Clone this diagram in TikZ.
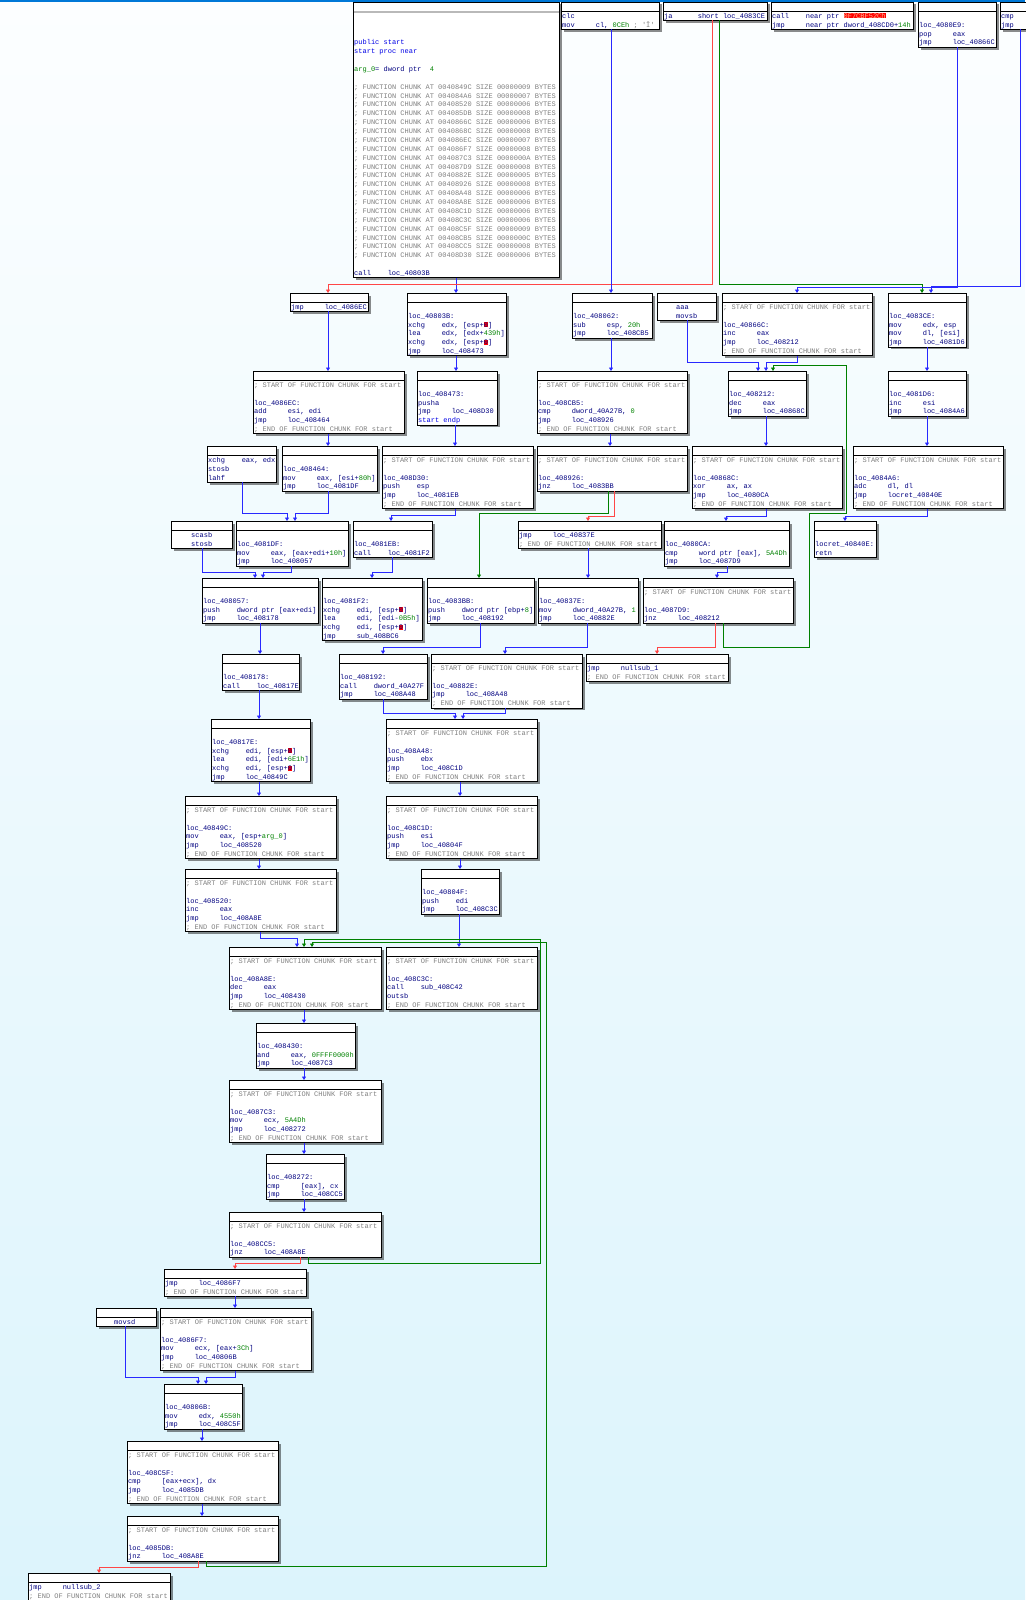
\documentclass[tikz,border=0pt]{standalone}
\usepackage{fontspec}
\setmonofont{Liberation Mono}
\usetikzlibrary{calc,arrows.meta,shadows}
\definecolor{navyc}{RGB}{0,0,128}
\definecolor{numg}{RGB}{0,130,0}
\definecolor{cmtg}{RGB}{128,128,128}
\definecolor{pubb}{RGB}{0,0,230}
\definecolor{hlred}{RGB}{255,0,0}
\definecolor{hltext}{RGB}{255,190,150}
\definecolor{edgeblue}{RGB}{40,40,255}
\definecolor{edgered}{RGB}{255,70,70}
\definecolor{edgegreen}{RGB}{0,128,0}
\definecolor{bgtop}{RGB}{252,254,255}
\definecolor{bgbot}{RGB}{220,244,252}
\definecolor{topblue}{RGB}{0,120,215}
\newcommand\idafnt{\ttfamily\fontsize{7pt}{8.87pt}\selectfont}
\newcommand\fixsp{\spaceskip=4.2pt\relax\xspaceskip=4.2pt\relax}
\newcommand\ins[2]{\makebox[33.6pt][l]{#1}#2}
\newcommand\inum[1]{\textcolor{numg}{#1}}
\newcommand\cmt[1]{\textcolor{cmtg}{#1}}
\newcommand\pub[1]{\textcolor{pubb}{#1}}
\newcommand\hlr[1]{{\setlength{\fboxsep}{0pt}\colorbox{hlred}{#1}}}
\newcommand\hlw[1]{{\setlength{\fboxsep}{0pt}\colorbox{hlred}{\textcolor{hltext}{#1}}}}
\newcommand\sch{\cmt{; START OF FUNCTION CHUNK FOR start}}
\newcommand\ech{\cmt{; END OF FUNCTION CHUNK FOR start}}
\newcommand\fch[2]{\cmt{; FUNCTION CHUNK AT #1 SIZE #2 BYTES}}
\newcommand\blank{\mbox{}}
\tikzset{
  blkbox/.style={draw=black, line width=0.8pt, fill=white, inner sep=0pt, outer sep=0pt,
    drop shadow={shadow xshift=2.5pt, shadow yshift=-2.5pt, opacity=0.45, fill=black}},
  blktext/.style={inner sep=0pt, outer sep=0pt, text=navyc, font=\idafnt, align=left},
  hdrline/.style={draw=black, line width=0.6pt},
  eb/.style={draw=edgeblue, line width=0.9pt, -{Triangle[length=3.5pt,width=4pt]}},
  er/.style={draw=edgered, line width=0.9pt, -{Triangle[length=3.5pt,width=4pt]}},
  eg/.style={draw=edgegreen, line width=0.9pt, -{Triangle[length=3.5pt,width=4pt]}}
}
% \blk{name}{x}{top}{width}{lines}{text}
\newcommand\blk[6]{%
  \pgfmathsetlengthmacro\blkh{9.6pt+8.87pt*#5}%
  \pgfmathsetlengthmacro\blkw{#4pt+12pt}%
  \node[blkbox, minimum width=#4pt, minimum height=\blkh, anchor=north west] (#1) at (#2,#3) {};
  \draw[hdrline] ($(#1.north west)+(0,9)$) -- ($(#1.north east)+(0,9)$);
  \node[blktext, text width=\blkw, anchor=base west] (#1t) at ($(#1.north west)+(1.2,16.3)$) {\fixsp #6};
}
\newcommand\edst[4]{\draw[#1] (#2.south -| #3,0) -- (#4.north -| #3,0);}
\newcommand\edbend[6]{\draw[#1] (#2.south -| #3,0) -- (#3,#5) -- (#4,#5) -- (#6.north -| #4,0);}
\begin{document}
\begin{tikzpicture}[x=1pt,y=-1pt]
\useasboundingbox (0,0) rectangle (1025,1600);
\shade[top color=bgtop, bottom color=bgbot] (0,0) rectangle (1025,1600);
\draw[topblue, line width=1.6pt] (0,0.8) -- (1025,0.8);

% ---------- top row ----------
\blk{bstart}{353}{2}{206}{30}{\blank\\\blank\\\blank\\\pub{public start}\\\pub{start proc near}\\\blank\\
\inum{arg\_0}= dword ptr~ \inum{4}\\\blank\\
\fch{0040849C}{00000009}\\\fch{004084A6}{00000007}\\\fch{00408520}{00000006}\\\fch{004085DB}{00000008}\\
\fch{0040866C}{00000006}\\\fch{0040868C}{00000008}\\\fch{004086EC}{00000007}\\\fch{004086F7}{00000008}\\
\fch{004087C3}{0000000A}\\\fch{004087D9}{00000008}\\\fch{0040882E}{00000005}\\\fch{00408926}{00000008}\\
\fch{00408A48}{00000006}\\\fch{00408A8E}{00000006}\\\fch{00408C1D}{00000006}\\\fch{00408C3C}{00000006}\\
\fch{00408C5F}{00000009}\\\fch{00408CB5}{0000000C}\\\fch{00408CC5}{00000008}\\\fch{00408D30}{00000006}\\
\blank\\\ins{call}{loc\_40803B}}
\draw[gray!55, line width=1.6pt] ($(bstart.north west)+(0.5,10)$) -- ($(bstart.north east)+(-0.5,10)$);
\blk{bclc}{561}{2}{98}{2}{\ins{clc}{}\\\ins{mov}{cl, \inum{0CEh} \cmt{; 'Î'}}}
\blk{bja}{663}{2}{104}{1}{\ins{ja}{short loc\_4083CE}}
\blk{bcall}{771}{2}{142}{2}{\ins{call}{near ptr \hlw{0F7CBF52Ch}}\\\ins{jmp}{near ptr dword\_408CD0+\inum{14h}}}
\blk{b4080E9}{918}{2}{78}{4}{\blank\\loc\_4080E9:\\\ins{pop}{eax}\\\ins{jmp}{loc\_40866C}}
\blk{bcmp}{1000}{2}{40}{2}{\ins{cmp}{}\\\ins{jmp}{}}

% ---------- row 2 ----------
\blk{b4086ECj}{290}{293}{78}{1}{\ins{jmp}{loc\_4086EC}}
\blk{b40803B}{407}{293}{99}{6}{\blank\\loc\_40803B:\\\ins{xchg}{edx, [esp+\hlr{0}]}\\\ins{lea}{edx, [edx+\inum{439h}]}\\\ins{xchg}{edx, [esp+\hlr{0}]}\\\ins{jmp}{loc\_408473}}
\blk{b408062}{572}{293}{80}{4}{\blank\\loc\_408062:\\\ins{sub}{esp, \inum{20h}}\\\ins{jmp}{loc\_408CB5}}
\blk{baaa}{657}{293}{59}{2}{\hspace*{18pt}aaa\\\hspace*{18pt}movsb}
\blk{b40866C}{722}{293}{150}{6}{\sch\\\blank\\loc\_40866C:\\\ins{inc}{eax}\\\ins{jmp}{loc\_408212}\\\ech}
\blk{b4083CE}{888}{293}{78}{5}{\blank\\loc\_4083CE:\\\ins{mov}{edx, esp}\\\ins{mov}{dl, [esi]}\\\ins{jmp}{loc\_4081D6}}

% ---------- row 3 ----------
\blk{b4086EC}{253}{371}{151}{6}{\sch\\\blank\\loc\_4086EC:\\\ins{add}{esi, edi}\\\ins{jmp}{loc\_408464}\\\ech}
\blk{b408473}{417}{371}{80}{5}{\blank\\loc\_408473:\\\ins{pusha}{}\\\ins{jmp}{loc\_408D30}\\\pub{start endp}}
\blk{b408CB5}{537}{371}{150}{6}{\sch\\\blank\\loc\_408CB5:\\\ins{cmp}{dword\_40A27B, \inum{0}}\\\ins{jmp}{loc\_408926}\\\ech}
\blk{b408212}{728}{371}{78}{4}{\blank\\loc\_408212:\\\ins{dec}{eax}\\\ins{jmp}{loc\_40868C}}
\blk{b4081D6}{888}{371}{78}{4}{\blank\\loc\_4081D6:\\\ins{inc}{esi}\\\ins{jmp}{loc\_4084A6}}

% ---------- row 4 ----------
\blk{bxchg}{207}{446}{69}{3}{\ins{xchg}{eax, edx}\\\ins{stosb}{}\\\ins{lahf}{}}
\blk{b408464}{282}{446}{95}{4}{\blank\\loc\_408464:\\\ins{mov}{eax, [esi+\inum{80h}]}\\\ins{jmp}{loc\_4081DF}}
\blk{b408D30}{382}{446}{151}{6}{\sch\\\blank\\loc\_408D30:\\\ins{push}{esp}\\\ins{jmp}{loc\_4081EB}\\\ech}
\blk{b408926}{537}{446}{150}{4}{\sch\\\blank\\loc\_408926:\\\ins{jnz}{loc\_4083BB}}
\blk{b40868C}{692}{446}{150}{6}{\sch\\\blank\\loc\_40868C:\\\ins{xor}{ax, ax}\\\ins{jmp}{loc\_4080CA}\\\ech}
\blk{b4084A6}{853}{446}{150}{6}{\sch\\\blank\\loc\_4084A6:\\\ins{adc}{dl, dl}\\\ins{jmp}{locret\_40840E}\\\ech}

% ---------- row 5 ----------
\blk{bscasb}{171}{521}{61}{2}{\hspace*{19pt}scasb\\\hspace*{19pt}stosb}
\blk{b4081DF}{236}{521}{112}{4}{\blank\\loc\_4081DF:\\\ins{mov}{eax, [eax+edi+\inum{10h}]}\\\ins{jmp}{loc\_408057}}
\blk{b4081EB}{353}{521}{79}{3}{\blank\\loc\_4081EB:\\\ins{call}{loc\_4081F2}}
\blk{bjmp37E}{518}{521}{143}{2}{\ins{jmp}{loc\_40837E}\\\ech}
\blk{b4080CA}{664}{521}{125}{4}{\blank\\loc\_4080CA:\\\ins{cmp}{word ptr [eax], \inum{5A4Dh}}\\\ins{jmp}{loc\_4087D9}}
\blk{b40840E}{814}{521}{62}{3}{\blank\\locret\_40840E:\\retn}

% ---------- row 6 ----------
\blk{b408057}{202}{578}{116}{4}{\blank\\loc\_408057:\\\ins{push}{dword ptr [eax+edi]}\\\ins{jmp}{loc\_408178}}
\blk{b4081F2}{322}{578}{100}{6}{\blank\\loc\_4081F2:\\\ins{xchg}{edi, [esp+\hlr{0}]}\\\ins{lea}{edi, [edi-\inum{0B5h}]}\\\ins{xchg}{edi, [esp+\hlr{0}]}\\\ins{jmp}{sub\_408BC6}}
\blk{b4083BB}{427}{578}{107}{4}{\blank\\loc\_4083BB:\\\ins{push}{dword ptr [ebp+\inum{8}]}\\\ins{jmp}{loc\_408192}}
\blk{b40837E}{538}{578}{100}{4}{\blank\\loc\_40837E:\\\ins{mov}{dword\_40A27B, \inum{1}}\\\ins{jmp}{loc\_40882E}}
\blk{b4087D9}{643}{578}{150}{4}{\sch\\\blank\\loc\_4087D9:\\\ins{jnz}{loc\_408212}}

% ---------- row 7 ----------
\blk{b408178}{222}{654}{77}{3}{\blank\\loc\_408178:\\\ins{call}{loc\_40817E}}
\blk{b408192}{339}{654}{88}{4}{\blank\\loc\_408192:\\\ins{call}{dword\_40A27F}\\\ins{jmp}{loc\_408A48}}
\blk{b40882E}{431}{654}{151}{5}{\sch\\\blank\\loc\_40882E:\\\ins{jmp}{loc\_408A48}\\\ech}
\blk{bnull1}{586}{654}{142}{2}{\ins{jmp}{nullsub\_1}\\\ech}

% ---------- rows 8-10 ----------
\blk{b40817E}{211}{719}{99}{6}{\blank\\loc\_40817E:\\\ins{xchg}{edi, [esp+\hlr{0}]}\\\ins{lea}{edi, [edi+\inum{6E1h}]}\\\ins{xchg}{edi, [esp+\hlr{0}]}\\\ins{jmp}{loc\_40849C}}
\blk{b408A48}{386}{719}{151}{6}{\sch\\\blank\\loc\_408A48:\\\ins{push}{ebx}\\\ins{jmp}{loc\_408C1D}\\\ech}
\blk{b40849C}{185}{796}{151}{6}{\sch\\\blank\\loc\_40849C:\\\ins{mov}{eax, [esp+\inum{arg\_0}]}\\\ins{jmp}{loc\_408520}\\\ech}
\blk{b408C1D}{386}{796}{151}{6}{\sch\\\blank\\loc\_408C1D:\\\ins{push}{esi}\\\ins{jmp}{loc\_40804F}\\\ech}
\blk{b408520}{185}{869}{151}{6}{\sch\\\blank\\loc\_408520:\\\ins{inc}{eax}\\\ins{jmp}{loc\_408A8E}\\\ech}
\blk{b40804F}{421}{869}{78}{4}{\blank\\loc\_40804F:\\\ins{push}{edi}\\\ins{jmp}{loc\_408C3C}}

% ---------- rows 11-15 ----------
\blk{b408A8E}{229}{947}{152}{6}{\sch\\\blank\\loc\_408A8E:\\\ins{dec}{eax}\\\ins{jmp}{loc\_408430}\\\ech}
\blk{b408C3C}{386}{947}{151}{6}{\sch\\\blank\\loc\_408C3C:\\\ins{call}{sub\_408C42}\\\ins{outsb}{}\\\ech}
\blk{b408430}{256}{1023}{99}{4}{\blank\\loc\_408430:\\\ins{and}{eax, \inum{0FFFF0000h}}\\\ins{jmp}{loc\_4087C3}}
\blk{b4087C3}{229}{1080}{152}{6}{\sch\\\blank\\loc\_4087C3:\\\ins{mov}{ecx, \inum{5A4Dh}}\\\ins{jmp}{loc\_408272}\\\ech}
\blk{b408272}{266}{1154}{78}{4}{\blank\\loc\_408272:\\\ins{cmp}{[eax], cx}\\\ins{jmp}{loc\_408CC5}}
\blk{b408CC5}{229}{1212}{152}{4}{\sch\\\blank\\loc\_408CC5:\\\ins{jnz}{loc\_408A8E}}

% ---------- rows 16-21 ----------
\blk{b4086F7j}{164}{1269}{142}{2}{\ins{jmp}{loc\_4086F7}\\\ech}
\blk{bmovsd}{96}{1308}{60}{1}{\hspace*{17pt}movsd}
\blk{b4086F7}{160}{1308}{151}{6}{\sch\\\blank\\loc\_4086F7:\\\ins{mov}{ecx, [eax+\inum{3Ch}]}\\\ins{jmp}{loc\_40806B}\\\ech}
\blk{b40806B}{164}{1384}{78}{4}{\blank\\loc\_40806B:\\\ins{mov}{edx, \inum{4550h}}\\\ins{jmp}{loc\_408C5F}}
\blk{b408C5F}{127}{1441}{151}{6}{\sch\\\blank\\loc\_408C5F:\\\ins{cmp}{[eax+ecx], dx}\\\ins{jmp}{loc\_4085DB}\\\ech}
\blk{b4085DB}{127}{1516}{151}{4}{\sch\\\blank\\loc\_4085DB:\\\ins{jnz}{loc\_408A8E}}
\blk{bnull2}{28}{1573}{142}{2}{\ins{jmp}{nullsub\_2}\\\ech}

% ---------- edges ----------
\edst{eb}{bstart}{456}{b40803B}
\edbend{er}{bja}{712}{328}{284}{b4086ECj}
\edbend{eg}{bja}{719}{922}{284}{b4083CE}
\edbend{eb}{b4080E9}{957}{797}{287.5}{b40866C}
\edbend{eb}{bcmp}{1020}{931}{286}{b4083CE}
\edst{eb}{bclc}{611}{b408062}
\edst{eb}{b4086ECj}{328}{b4086EC}
\edst{eb}{b40803B}{456}{b408473}
\edst{eb}{b408062}{611}{b408CB5}
\edbend{eb}{baaa}{687}{758}{362}{b408212}
\edbend{eb}{b40866C}{797}{766}{362}{b408212}
\edst{eb}{b4083CE}{927}{b4081D6}
\edst{eb}{b4086EC}{328}{b408464}
\edst{eb}{b408473}{455}{b408D30}
\edst{eb}{b408CB5}{610}{b408926}
\edst{eb}{b408212}{766}{b40868C}
\edst{eb}{b4081D6}{927}{b4084A6}
\edbend{eb}{bxchg}{242}{287}{513}{b4081DF}
\edbend{eb}{b408464}{328}{295}{513}{b4081DF}
\edbend{eb}{b408D30}{455}{391}{515}{b4081EB}
\edbend{eg}{b408926}{608}{479}{513}{b4083BB}
\edbend{er}{b408926}{614}{588}{516}{bjmp37E}
\edbend{eb}{b40868C}{766}{726}{516}{b4080CA}
\edbend{eb}{b4084A6}{927}{845}{516}{b40840E}
\draw[eg] (b4087D9.south -| 723,0) -- (723,647) -- (809,647) -- (809,513) -- (846,513) -- (846,365) -- (773,365) -- (b408212.north -| 773,0);
\edbend{eb}{bscasb}{202}{255}{572}{b408057}
\edbend{eb}{b4081DF}{291}{263}{572}{b408057}
\edbend{eb}{b4081EB}{392}{372}{572}{b4081F2}
\edst{eb}{bjmp37E}{588}{b40837E}
\edbend{eb}{b4080CA}{727}{717}{572}{b4087D9}
\edst{eb}{b408057}{260}{b408178}
\edbend{eb}{b4083BB}{480}{383}{647}{b408192}
\edbend{eb}{b40837E}{587}{505}{647}{b40882E}
\edbend{er}{b4087D9}{715}{657}{647}{bnull1}
\edst{eb}{b408178}{259}{b40817E}
\edbend{eb}{b408192}{383}{455}{713}{b408A48}
\edbend{eb}{b40882E}{505}{463}{713}{b408A48}
\edst{eb}{b40817E}{259}{b40849C}
\edst{eb}{b408A48}{460}{b408C1D}
\edst{eb}{b40849C}{259}{b408520}
\edst{eb}{b408C1D}{460}{b40804F}
\edbend{eb}{b408520}{260}{297}{938}{b408A8E}
\edst{eb}{b40804F}{459}{b408C3C}
\draw[eg] (b408CC5.south -| 308,0) -- (308,1263) -- (540,1263) -- (540,939) -- (304,939) -- (b408A8E.north -| 304,0);
\draw[eg] (b4085DB.south -| 206,0) -- (206,1566) -- (546,1566) -- (546,942) -- (312,942) -- (b408A8E.north -| 312,0);
\edst{eb}{b408A8E}{304}{b408430}
\edst{eb}{b408430}{304}{b4087C3}
\edst{eb}{b4087C3}{304}{b408272}
\edst{eb}{b408272}{304}{b408CC5}
\edbend{er}{b408CC5}{300}{235}{1263}{b4086F7j}
\edst{eb}{b4086F7j}{235}{b4086F7}
\edbend{eb}{bmovsd}{125}{198}{1377}{b40806B}
\edbend{eb}{b4086F7}{235}{206}{1377}{b40806B}
\edst{eb}{b40806B}{202}{b408C5F}
\edst{eb}{b408C5F}{202}{b4085DB}
\edbend{er}{b4085DB}{198}{99}{1567}{bnull2}
\end{tikzpicture}
\end{document}
